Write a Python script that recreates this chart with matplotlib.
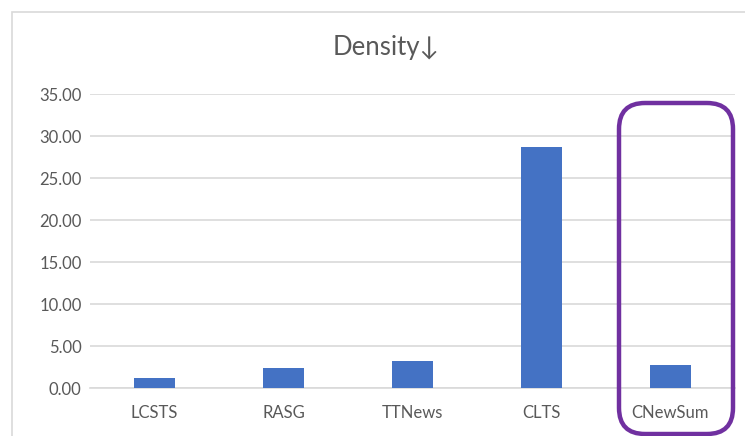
#!/usr/bin/env python3
"""Density per summarisation dataset, CNewSum highlighted."""
import matplotlib
matplotlib.use("Agg")
import matplotlib.pyplot as plt
from matplotlib.patches import Rectangle, FancyBboxPatch

DATASETS = ["LCSTS", "RASG", "TTNews", "CLTS", "CNewSum"]
DENSITY = [1.19, 2.43, 3.18, 28.70, 2.70]
Y_TICKS = [0, 5, 10, 15, 20, 25, 30, 35]

BAR_COLOR = "#4472C4"
TEXT_COLOR = "#595959"
GRID_COLOR = "#D9D9D9"
HIGHLIGHT = "#7030A0"

plt.rcParams["font.family"] = ["Lato", "DejaVu Sans"]

W, H = 745, 436
fig = plt.figure(figsize=(W / 100, H / 100), dpi=100)
ax = fig.add_axes([90 / W, 1 - 388 / H, 645 / W, 294 / H])

x = range(len(DATASETS))
ax.bar(x, DENSITY, width=0.32, color=BAR_COLOR, zorder=3)
ax.set_xlim(-0.5, len(DATASETS) - 0.5)
ax.set_ylim(0, 35)
ax.set_yticks(Y_TICKS)
ax.set_yticklabels([f"{v:.2f}" for v in Y_TICKS])
ax.set_xticks(list(x))
ax.set_xticklabels(DATASETS)
ax.tick_params(axis="both", length=0, colors=TEXT_COLOR, labelsize=12)
ax.tick_params(axis="y", pad=6)
ax.tick_params(axis="x", pad=12)
ax.grid(axis="y", color=GRID_COLOR, linewidth=1.2, zorder=0)
for side in ("top", "right", "left"):
    ax.spines[side].set_visible(False)
ax.spines["bottom"].set_color(GRID_COLOR)
ax.spines["bottom"].set_linewidth(1.2)

fig.text(386 / W, 1 - 48 / H, "Density↓", ha="center", va="center",
         fontsize=18.5, color=TEXT_COLOR)

# chart frame
fig.add_artist(Rectangle((12 / W, -0.05), 1.0, 1 - 12 / H + 0.05,
                         transform=fig.transFigure, fill=False,
                         edgecolor=GRID_COLOR, linewidth=1.2))

# highlight box around CNewSum
fig.add_artist(FancyBboxPatch((619 / W, 1 - 434 / H), 114 / W, 331 / H,
                              boxstyle="round,pad=0,rounding_size=0.035",
                              transform=fig.transFigure, fill=False,
                              edgecolor=HIGHLIGHT, linewidth=3.2,
                              mutation_aspect=W / H))

fig.savefig("out.png", dpi=100)
